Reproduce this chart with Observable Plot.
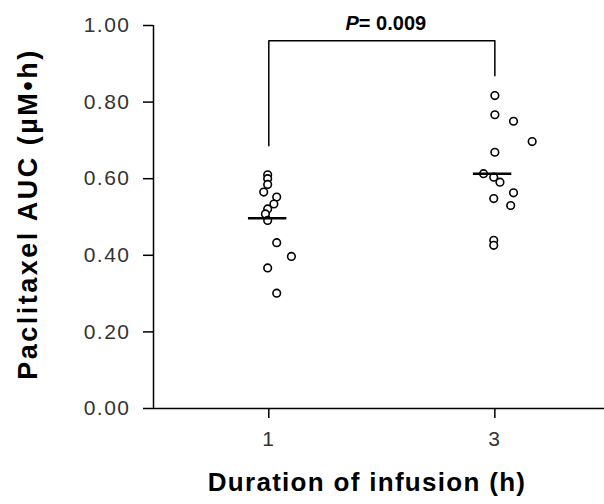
<!DOCTYPE html>
<html>
<head>
<meta charset="utf-8">
<script src="https://cdn.jsdelivr.net/npm/d3@7"></script>
<script src="https://cdn.jsdelivr.net/npm/@observablehq/plot@0.6"></script>
<style>
  html, body { margin: 0; padding: 0; background: #fff; }
  #chart svg { font-family: "Liberation Sans", Arial, sans-serif; }
</style>
</head>
<body>
<div id="chart"></div>
<script>
// Infusion groups (h)
const groups = [1, 3];
// Paclitaxel AUC (µM•h), 1-h infusion
const auc1h = [0.610, 0.600, 0.585, 0.565, 0.552, 0.534, 0.521, 0.508, 0.491, 0.433, 0.397, 0.367, 0.301];
// horizontal placement of each 1-h point (hours axis, as drawn)
const xpos1h = [0.99, 0.99, 0.99, 0.955, 1.07, 1.045, 0.99, 0.97, 0.99, 1.07, 1.2, 0.99, 1.07];
// Paclitaxel AUC (µM•h), 3-h infusion
const auc3h = [0.817, 0.767, 0.750, 0.697, 0.669, 0.613, 0.604, 0.591, 0.563, 0.548, 0.530, 0.439, 0.426];
const xpos3h = [3.0, 3.0, 3.165, 3.33, 3.0, 2.90, 2.99, 3.045, 3.165, 2.99, 3.14, 2.99, 2.99];
// group means
const means = [0.497, 0.613];
const meanCenters = [0.99, 2.98];
// y ticks
const yTicks = [0, 0.2, 0.4, 0.6, 0.8, 1.0];
const xTicks = [1, 3];
// significance bracket
const bracketTop = 0.96;
const bracketEnds = [0.686, 0.869];
const pLabel = "P= 0.009";
const yTitle = "Paclitaxel AUC (µM•h)";
const xTitle = "Duration of infusion (h)";

const pts = [
  ...auc1h.map((v, i) => ({x: xpos1h[i], y: v})),
  ...auc3h.map((v, i) => ({x: xpos3h[i], y: v}))
];
const meanRows = means.map((m, i) => ({y: m, x1: meanCenters[i] - 0.17, x2: meanCenters[i] + 0.17}));
const bracket = [
  {x: groups[0], y: bracketEnds[0]},
  {x: groups[0], y: bracketTop},
  {x: groups[1], y: bracketTop},
  {x: groups[1], y: bracketEnds[1]}
];
const xMin = -0.02, xMax = 3.97;

const chart = Plot.plot({
  width: 604,
  height: 504,
  marginLeft: 153,
  marginRight: 0,
  marginTop: 25,
  marginBottom: 96,
  style: {background: "#fff", color: "#000", overflow: "visible"},
  x: {domain: [xMin, xMax]},
  y: {domain: [0, 1]},
  marks: [
    Plot.axisY({ticks: yTicks, tickFormat: d3.format(".2f"), tickSize: 10, tickPadding: 13,
      label: null, fontSize: 21, strokeWidth: 1.5, fill: "#333"}),
    Plot.axisX({ticks: xTicks, tickFormat: d => d, tickSize: 10, tickPadding: 13,
      label: null, fontSize: 21, strokeWidth: 1.5, fill: "#333"}),
    Plot.ruleX([xMin], {y1: 0, y2: 1, strokeWidth: 1.5}),
    Plot.ruleY([0], {strokeWidth: 1.5}),
    Plot.line(bracket, {x: "x", y: "y", strokeWidth: 1.5, stroke: "#000"}),
    Plot.dot(pts, {x: "x", y: "y", r: 3.8, stroke: "#000", fill: "#fff", strokeWidth: 1.6}),
    Plot.ruleY(meanRows, {y: "y", x1: "x1", x2: "x2", strokeWidth: 2.5, stroke: "#000"}),
    Plot.text([pLabel], {x: () => 2, y: () => 1.005, text: d => d, fontSize: 20, fontWeight: "bold",
      fill: "#000", dx: 4, className: "plabel"}),
    Plot.text([yTitle], {frameAnchor: "left", textAnchor: "middle", text: d => d, rotate: -90, dx: -125, dy: -3,
      fontSize: 27, fontWeight: "bold", fill: "#000", className: "ytitle"}),
    Plot.text([xTitle], {frameAnchor: "bottom", textAnchor: "middle", text: d => d, dx: -12, dy: 82,
      fontSize: 26, fontWeight: "bold", fill: "#000", className: "xtitle"})
  ]
});
document.getElementById("chart").appendChild(chart);

// italic P in the p-value label
d3.select(chart).selectAll(".plabel text").each(function() {
  const t = d3.select(this);
  const s = t.text();
  t.text(null);
  t.append("tspan").attr("font-style", "italic").text(s[0]);
  t.append("tspan").text(s.slice(1));
});
d3.select(chart).selectAll(".ytitle text").attr("letter-spacing", "2.5px");
d3.select(chart).selectAll(".xtitle text").attr("letter-spacing", "1.3px");
d3.select(chart).selectAll("g[aria-label='y-axis tick label'] text, g[aria-label='x-axis tick label'] text")
  .attr("letter-spacing", "1.5px");
</script>
</body>
</html>
